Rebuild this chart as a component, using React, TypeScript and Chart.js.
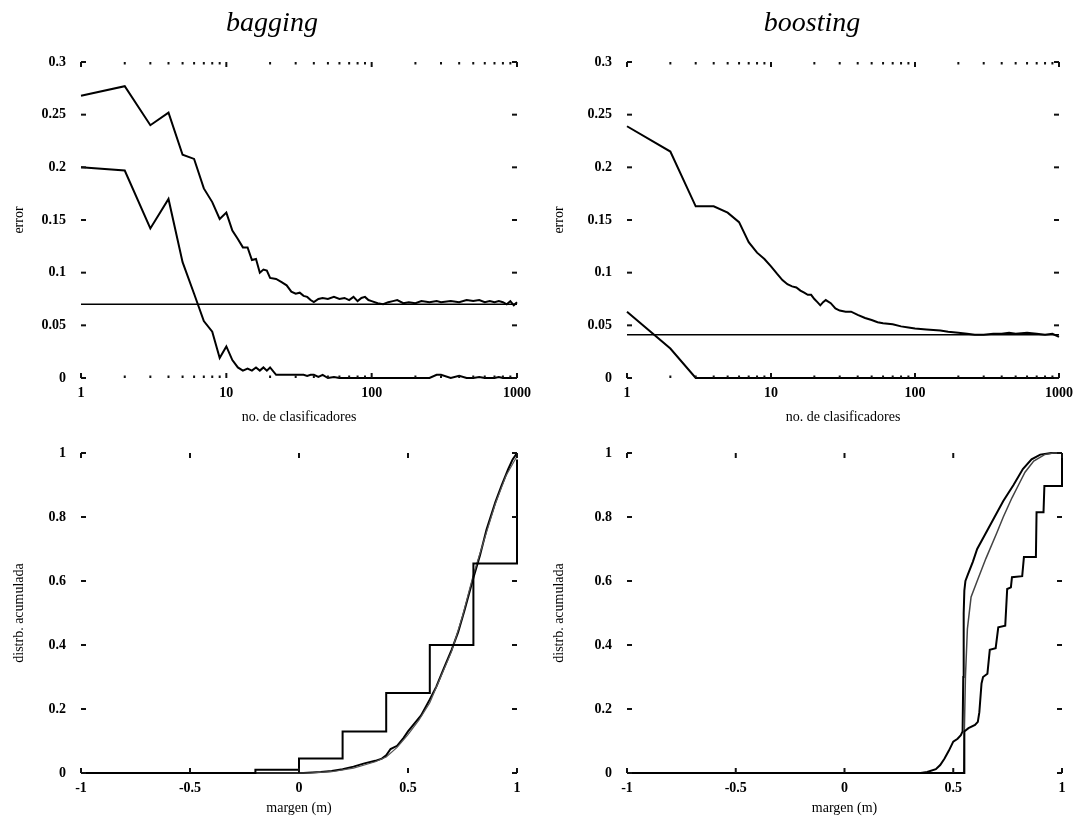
import React, { useEffect, useRef } from 'react';
import { Chart, registerables } from 'chart.js';

Chart.register(...registerables);

// ---------------- data: top panels (error vs. no. de clasificadores) ----------------
const bagN = [1, 2, 3, 4, 5, 6, 7, 8, 9, 10, 11, 12, 13, 14, 15, 16, 17, 18, 19, 20, 22, 24, 26, 28, 30, 32, 34, 36, 38, 40, 43, 46, 50, 55, 60, 65, 70, 75, 80, 85, 90, 95, 100, 110, 120, 130, 140, 150, 165, 180, 200, 220, 250, 280, 300, 350, 400, 450, 500, 550, 600, 650, 700, 750, 800, 850, 900, 950, 1000];
const bagTestError = [0.268, 0.277, 0.240, 0.252, 0.212, 0.208, 0.180, 0.167, 0.151, 0.157, 0.140, 0.132, 0.124, 0.124, 0.112, 0.113, 0.100, 0.103, 0.102, 0.095, 0.094, 0.091, 0.088, 0.082, 0.080, 0.081, 0.078, 0.077, 0.074, 0.072, 0.075, 0.076, 0.075, 0.077, 0.075, 0.076, 0.074, 0.077, 0.073, 0.076, 0.077, 0.074, 0.073, 0.071, 0.070, 0.072, 0.073, 0.074, 0.071, 0.072, 0.071, 0.073, 0.072, 0.073, 0.072, 0.073, 0.072, 0.074, 0.073, 0.074, 0.072, 0.073, 0.072, 0.073, 0.072, 0.070, 0.073, 0.069, 0.072];
const bagTrainError = [0.200, 0.197, 0.142, 0.170, 0.110, 0.080, 0.054, 0.044, 0.019, 0.030, 0.017, 0.010, 0.007, 0.009, 0.007, 0.010, 0.007, 0.010, 0.007, 0.010, 0.003, 0.003, 0.003, 0.003, 0.003, 0.003, 0.003, 0.002, 0.003, 0.003, 0.001, 0.003, 0.000, 0.001, 0.000, 0.000, 0.000, 0.000, 0.000, 0.000, 0.000, 0.000, 0.000, 0.000, 0.000, 0.000, 0.000, 0.000, 0.000, 0.000, 0.000, 0.000, 0.000, 0.003, 0.003, 0.000, 0.002, 0.000, 0.000, 0.001, 0.000, 0.000, 0.000, 0.001, 0.000, 0.000, 0.000, 0.000, 0.000];
const bagBaseN = [1, 1000];
const bagBaseError = [0.07, 0.07];

const boostN = [1, 2, 3, 4, 5, 6, 7, 8, 9, 10, 11, 12, 13, 14, 15, 16, 17, 18, 19, 20, 21, 22, 23, 24, 26, 28, 30, 33, 36, 40, 45, 50, 55, 60, 70, 80, 90, 100, 120, 150, 170, 200, 230, 260, 300, 350, 400, 450, 500, 600, 700, 800, 900, 1000];
const boostTestError = [0.239, 0.215, 0.163, 0.163, 0.157, 0.148, 0.129, 0.119, 0.113, 0.106, 0.099, 0.093, 0.089, 0.087, 0.086, 0.083, 0.081, 0.079, 0.079, 0.075, 0.072, 0.069, 0.072, 0.074, 0.071, 0.066, 0.064, 0.063, 0.063, 0.060, 0.057, 0.055, 0.053, 0.052, 0.051, 0.049, 0.048, 0.047, 0.046, 0.045, 0.044, 0.043, 0.042, 0.041, 0.041, 0.042, 0.042, 0.043, 0.042, 0.043, 0.042, 0.041, 0.042, 0.039];
const boostTrainN = [1, 2, 3, 10, 100, 1000];
const boostTrainError = [0.063, 0.028, 0.0, 0.0, 0.0, 0.0];
const boostBaseN = [1, 1000];
const boostBaseError = [0.041, 0.041];

// ---------------- data: bottom panels (distrb. acumulada vs. margen) ----------------
const bagStepM = [-1, -0.2, 0, 0.2, 0.4, 0.6, 0.8, 1];
const bagStepCdf = [0, 0.01, 0.045, 0.13, 0.25, 0.40, 0.655, 0.98];
const bagCurveM = [-1, 0.02, 0.1, 0.15, 0.2, 0.25, 0.3, 0.35, 0.38, 0.4, 0.42, 0.45, 0.48, 0.5, 0.53, 0.56, 0.6, 0.63, 0.66, 0.7, 0.73, 0.76, 0.8, 0.83, 0.86, 0.9, 0.93, 0.96, 0.98, 1];
const bagCurveCdf = [0, 0, 0.003, 0.006, 0.012, 0.02, 0.03, 0.038, 0.045, 0.055, 0.075, 0.085, 0.11, 0.13, 0.155, 0.18, 0.23, 0.27, 0.32, 0.385, 0.44, 0.51, 0.61, 0.68, 0.76, 0.845, 0.9, 0.95, 0.98, 1.0];
const bagCurve2M = [-1, 0.05, 0.15, 0.25, 0.3, 0.35, 0.4, 0.45, 0.5, 0.55, 0.6, 0.65, 0.7, 0.75, 0.8, 0.85, 0.9, 0.95, 1];
const bagCurve2Cdf = [0, 0, 0.004, 0.015, 0.025, 0.035, 0.05, 0.08, 0.12, 0.165, 0.22, 0.3, 0.38, 0.49, 0.62, 0.73, 0.84, 0.93, 0.99];

const boostCurveM = [-1, 0.35, 0.38, 0.42, 0.44, 0.46, 0.48, 0.5, 0.52, 0.535, 0.543, 0.546, 0.548, 0.551, 0.556, 0.567, 0.59, 0.61, 0.65, 0.69, 0.73, 0.777, 0.82, 0.86, 0.9, 0.95, 1];
const boostCurveCdf = [0, 0, 0.003, 0.012, 0.025, 0.045, 0.07, 0.098, 0.107, 0.118, 0.13, 0.3, 0.5, 0.57, 0.6, 0.62, 0.66, 0.7, 0.75, 0.8, 0.85, 0.9, 0.95, 0.98, 0.995, 1.0, 1.0];
const boostCurve2M = [-1, 0.548, 0.551, 0.556, 0.565, 0.582, 0.61, 0.65, 0.7, 0.73, 0.77, 0.8, 0.83, 0.87, 0.92, 0.96, 1];
const boostCurve2Cdf = [0, 0, 0.13, 0.3, 0.45, 0.55, 0.6, 0.67, 0.75, 0.8, 0.86, 0.9, 0.94, 0.975, 0.995, 1.0, 1.0];
const boostStepM = [-1, 0.551, 0.551, 0.57, 0.6, 0.613, 0.62, 0.63, 0.637, 0.657, 0.668, 0.695, 0.707, 0.739, 0.748, 0.765, 0.77, 0.817, 0.825, 0.88, 0.883, 0.915, 0.919, 1, 1];
const boostStepCdf = [0, 0, 0.13, 0.14, 0.15, 0.16, 0.19, 0.28, 0.30, 0.31, 0.385, 0.39, 0.455, 0.46, 0.575, 0.58, 0.612, 0.615, 0.675, 0.675, 0.815, 0.815, 0.897, 0.897, 1.0];

// ---------------- ticks & titles ----------------
const errorTicks = [0, 0.05, 0.1, 0.15, 0.2, 0.25, 0.3];
const errorTickLabels = ['0', '0.05', '0.1', '0.15', '0.2', '0.25', '0.3'];
const logTicks = [1, 10, 100, 1000];
const logTickLabels = ['1', '10', '100', '1000'];
const logMinorTicks = [2, 3, 4, 5, 6, 7, 8, 9, 20, 30, 40, 50, 60, 70, 80, 90, 200, 300, 400, 500, 600, 700, 800, 900];
const marginTicks = [-1, -0.5, 0, 0.5, 1];
const marginTickLabels = ['-1', '-0.5', '0', '0.5', '1'];
const cdfTicks = [0, 0.2, 0.4, 0.6, 0.8, 1];
const cdfTickLabels = ['0', '0.2', '0.4', '0.6', '0.8', '1'];
const panelTitles = ['bagging', 'boosting'];

const SERIF = '"Liberation Serif", "DejaVu Serif", serif';

const pts = (xs: number[], ys: number[]) => xs.map((x, i) => ({ x, y: ys[i] }));

const innerTicks = {
  id: 'innerTicks',
  afterDraw(chart: any, _args: any, opts: any) {
    const { ctx, chartArea: a } = chart;
    const xs = chart.scales.x;
    const ys = chart.scales.y;
    ctx.save();
    ctx.strokeStyle = '#111';
    ctx.lineWidth = 2;
    const seg = (x1: number, y1: number, x2: number, y2: number) => {
      ctx.beginPath();
      ctx.moveTo(x1, y1);
      ctx.lineTo(x2, y2);
      ctx.stroke();
    };
    for (const t of ys.ticks) {
      const y = ys.getPixelForValue(t.value);
      seg(a.left, y, a.left + 5, y);
      seg(a.right, y, a.right - 5, y);
    }
    for (const t of xs.ticks) {
      const x = xs.getPixelForValue(t.value);
      seg(x, a.bottom, x, a.bottom - 5);
      seg(x, a.top, x, a.top + 5);
    }
    for (const v of (opts && opts.minor) || []) {
      const x = xs.getPixelForValue(v);
      seg(x, a.bottom, x, a.bottom - 2.5);
      seg(x, a.top, x, a.top + 2.5);
    }
    ctx.restore();
  },
};

const line = (data: any[], extra: any = {}) => ({
  data,
  borderColor: '#000',
  borderWidth: 2,
  pointRadius: 0,
  tension: 0,
  fill: false,
  clip: false,
  ...extra,
});

type PanelSpec = {
  left: number;
  top: number;
  width: number;
  height: number;
  title?: string;
  titleCenter?: number;
  config: () => any;
};

function scaleCommon(
  vals: number[],
  labels: string[],
  title: string,
  tickPad: number,
  titlePad: any,
  fitSize: number,
  horizontal: boolean
) {
  return {
    grid: { display: false, drawTicks: false },
    border: { display: false },
    afterBuildTicks: (s: any) => {
      s.ticks = vals.map((v) => ({ value: v }));
    },
    afterFit: (s: any) => {
      if (horizontal) s.height = fitSize;
      else s.width = fitSize;
    },
    ticks: {
      autoSkip: false,
      maxRotation: 0,
      padding: tickPad,
      color: '#000',
      font: { family: SERIF, size: 14, weight: 'bold' },
      callback: (_v: any, i: number) => labels[i],
    },
    title: {
      display: true,
      text: title,
      color: '#000',
      font: { family: SERIF, size: 14 },
      padding: titlePad,
    },
  };
}

function topConfig(datasets: any[], chartLeft: number, padRight: number) {
  return () => ({
    type: 'line',
    data: { datasets },
    plugins: [innerTicks],
    options: {
      animation: false,
      responsive: false,
      devicePixelRatio: 1,
      layout: { padding: { left: 0, right: padRight, top: 62, bottom: 0 } },
      plugins: {
        legend: { display: false },
        tooltip: { enabled: false },
        title: { display: false },
        innerTicks: { minor: logMinorTicks },
      },
      scales: {
        x: {
          type: 'logarithmic',
          min: 1,
          max: 1000,
          ...scaleCommon(logTicks, logTickLabels, 'no. de clasificadores', 7, { top: 0, bottom: 2.6 }, 50, true),
        },
        y: {
          type: 'linear',
          min: 0,
          max: 0.3,
          ...scaleCommon(errorTicks, errorTickLabels, 'error', 15, { top: 10.6, bottom: 0 }, chartLeft, false),
        },
      },
    },
  });
}

function bottomConfig(datasets: any[], chartLeft: number, padRight: number) {
  return () => ({
    type: 'line',
    data: { datasets },
    plugins: [innerTicks],
    options: {
      animation: false,
      responsive: false,
      devicePixelRatio: 1,
      layout: { padding: { left: 0, right: padRight, top: 25, bottom: 0 } },
      plugins: {
        legend: { display: false },
        tooltip: { enabled: false },
        title: { display: false },
        innerTicks: { minor: [] },
      },
      scales: {
        x: {
          type: 'linear',
          min: -1,
          max: 1,
          ...scaleCommon(marginTicks, marginTickLabels, 'margen (m)', 6.6, { top: 0, bottom: 6.6 }, 50, true),
        },
        y: {
          type: 'linear',
          min: 0,
          max: 1,
          ...scaleCommon(cdfTicks, cdfTickLabels, 'distrb. acumulada', 15, { top: 10.6, bottom: 0 }, chartLeft, false),
        },
      },
    },
  });
}

const panels: PanelSpec[] = [
  {
    left: 0,
    top: 0,
    width: 540,
    height: 428,
    title: panelTitles[0],
    titleCenter: 272,
    config: topConfig(
      [
        line(pts(bagN, bagTestError)),
        line(pts(bagN, bagTrainError)),
        line(pts(bagBaseN, bagBaseError), { borderWidth: 1.5 }),
      ],
      81,
      23
    ),
  },
  {
    left: 540,
    top: 0,
    width: 540,
    height: 428,
    title: panelTitles[1],
    titleCenter: 272,
    config: topConfig(
      [
        line(pts(boostN, boostTestError)),
        line(pts(boostTrainN, boostTrainError)),
        line(pts(boostBaseN, boostBaseError), { borderWidth: 1.5 }),
      ],
      87,
      18
    ),
  },
  {
    left: 0,
    top: 428,
    width: 540,
    height: 395,
    config: bottomConfig(
      [
        line(pts(bagStepM, bagStepCdf), { stepped: 'before' }),
        line(pts(bagCurve2M, bagCurve2Cdf), { borderWidth: 1.2, borderColor: '#555' }),
        line(pts(bagCurveM, bagCurveCdf)),
      ],
      81,
      23
    ),
  },
  {
    left: 540,
    top: 428,
    width: 540,
    height: 395,
    config: bottomConfig(
      [
        line(pts(boostStepM, boostStepCdf)),
        line(pts(boostCurve2M, boostCurve2Cdf), { borderWidth: 1.5, borderColor: '#444' }),
        line(pts(boostCurveM, boostCurveCdf)),
      ],
      87,
      18
    ),
  },
];

function Panel({ spec }: { spec: PanelSpec }) {
  const ref = useRef<HTMLCanvasElement>(null);
  useEffect(() => {
    const chart = new Chart(ref.current as HTMLCanvasElement, spec.config() as any);
    return () => chart.destroy();
  }, [spec]);
  return (
    <div style={{ position: 'absolute', left: spec.left, top: spec.top, width: spec.width, height: spec.height }}>
      <canvas
        ref={ref}
        width={spec.width}
        height={spec.height}
        style={{ width: spec.width, height: spec.height, display: 'block' }}
      />
      {spec.title ? (
        <div
          style={{
            position: 'absolute',
            left: (spec.titleCenter || 270) - 100,
            top: 7,
            width: 200,
            height: 30,
            lineHeight: '30px',
            textAlign: 'center',
            fontFamily: SERIF,
            fontStyle: 'italic',
            fontSize: 28,
            color: '#000',
          }}
        >
          {spec.title}
        </div>
      ) : null}
    </div>
  );
}

export default function App() {
  return (
    <div style={{ position: 'absolute', left: 0, top: 0, width: 1080, height: 823, background: '#fff', overflow: 'hidden' }}>
      {panels.map((p, i) => (
        <Panel key={i} spec={p} />
      ))}
    </div>
  );
}
